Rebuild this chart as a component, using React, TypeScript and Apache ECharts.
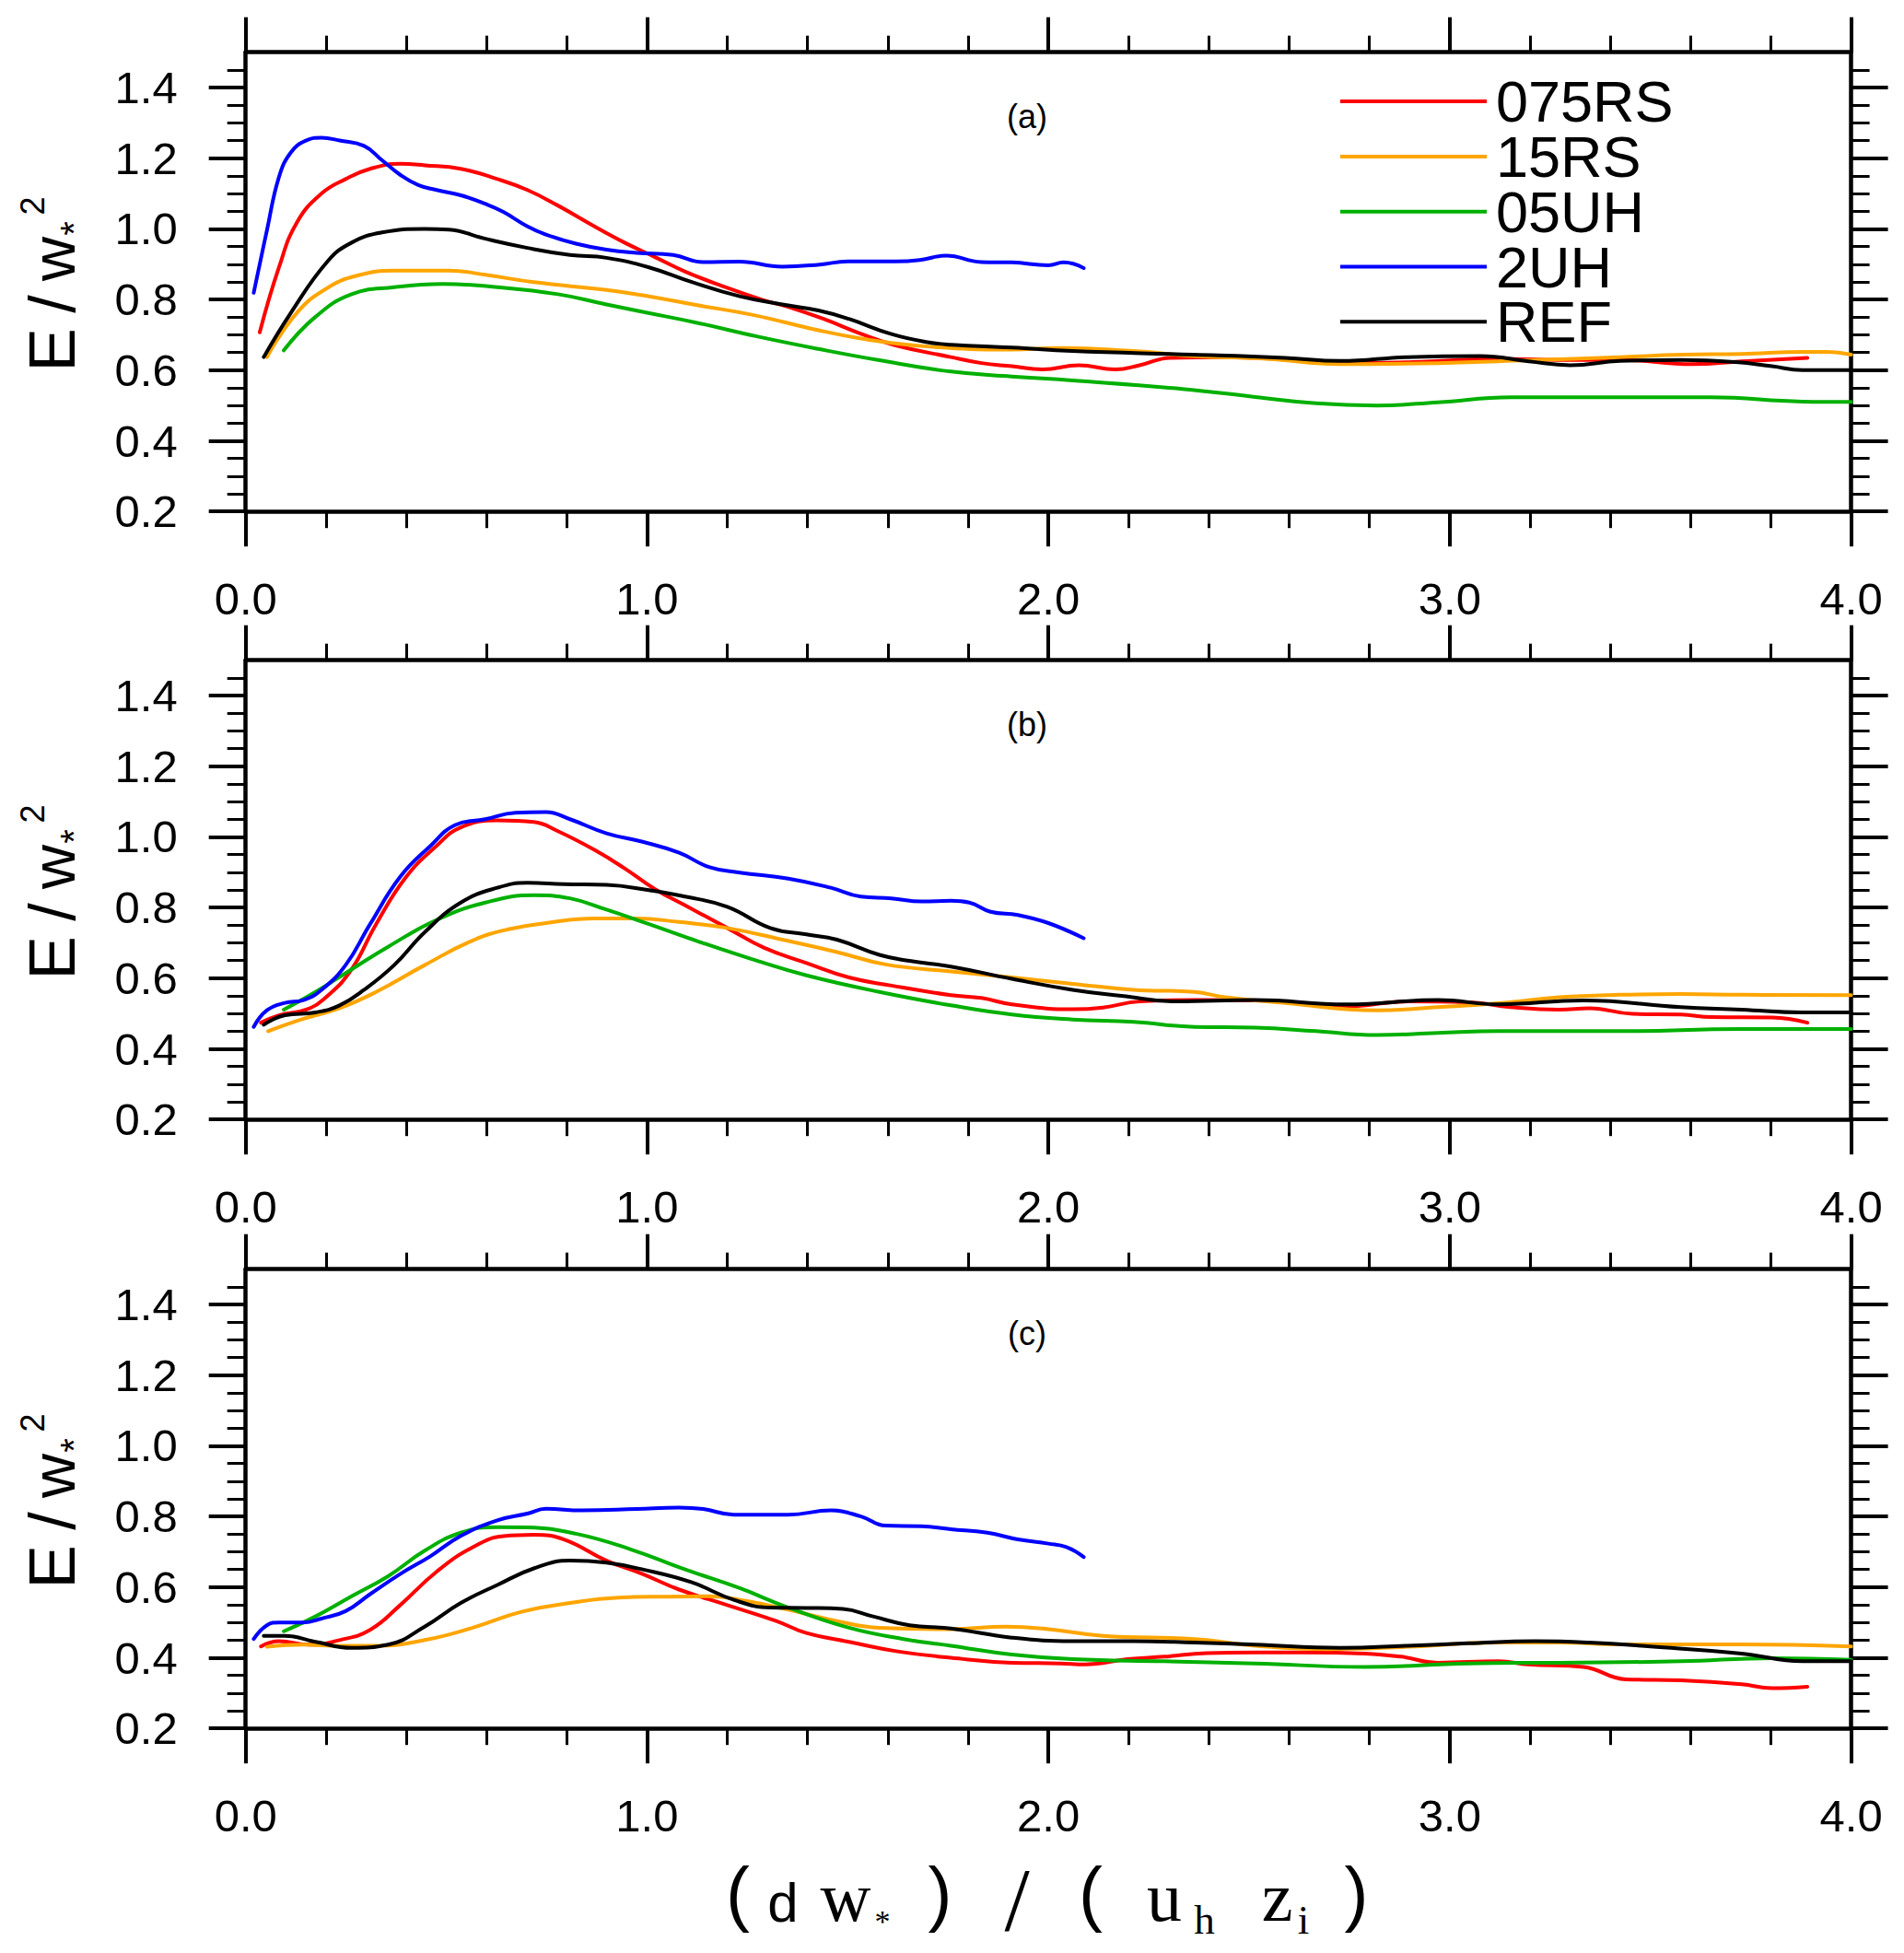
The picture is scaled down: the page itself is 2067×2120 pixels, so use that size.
import React, { useEffect, useRef } from 'react';
import * as echarts from 'echarts';

const SERIES_NAMES = ['075RS', '15RS', '05UH', '2UH', 'REF'];
const SERIES_COLORS = ['#FF0000', '#FFA500', '#00B000', '#0000FF', '#000000'];
const PANEL_LABELS = ['(a)', '(b)', '(c)'];
const X_TICKS = [0, 1, 2, 3, 4];
const Y_TICKS = [0.2, 0.4, 0.6, 0.8, 1.0, 1.2, 1.4];

type P = [number, number][];

// ---- panel (a)
const A_075RS: P = [[0.035,0.707],[0.083,0.891],[0.128,1.019],[0.189,1.10],[0.249,1.141],[0.31,1.17],[0.385,1.184],[0.446,1.18],[0.536,1.17],[0.627,1.141],[0.702,1.11],[0.778,1.066],[0.869,1.007],[0.944,0.961],[1.02,0.92],[1.095,0.879],[1.2,0.833],[1.29,0.798],[1.35,0.78],[1.44,0.745],[1.53,0.704],[1.62,0.67],[1.757,0.637],[1.833,0.62],[1.909,0.611],[1.985,0.602],[2.076,0.614],[2.167,0.602],[2.227,0.614],[2.303,0.635],[2.44,0.637],[2.606,0.629],[2.727,0.62],[2.909,0.623],[3.121,0.632],[3.273,0.629],[3.424,0.629],[3.606,0.617],[3.727,0.625],[3.891,0.635]];
const A_15RS: P = [[0.053,0.637],[0.128,0.763],[0.204,0.833],[0.279,0.868],[0.37,0.882],[0.506,0.882],[0.597,0.87],[0.718,0.849],[0.899,0.827],[1.005,0.809],[1.125,0.784],[1.261,0.757],[1.427,0.713],[1.548,0.687],[1.699,0.667],[1.909,0.658],[2.03,0.663],[2.212,0.654],[2.364,0.64],[2.545,0.632],[2.727,0.617],[2.97,0.62],[3.197,0.628],[3.424,0.637],[3.576,0.644],[3.727,0.646],[3.879,0.652],[3.94,0.652],[4.0,0.644]];
const A_05UH: P = [[0.095,0.656],[0.174,0.751],[0.264,0.815],[0.37,0.835],[0.491,0.844],[0.627,0.835],[0.778,0.815],[0.899,0.786],[0.989,0.765],[1.125,0.734],[1.276,0.695],[1.427,0.66],[1.579,0.628],[1.757,0.596],[1.909,0.582],[2.06,0.571],[2.333,0.547],[2.515,0.524],[2.667,0.506],[2.818,0.5],[2.97,0.509],[3.152,0.523],[3.424,0.523],[3.652,0.523],[3.879,0.511],[4.0,0.51]];
const A_2UH: P = [[0.02,0.819],[0.053,0.996],[0.083,1.147],[0.113,1.217],[0.15,1.25],[0.189,1.258],[0.234,1.25],[0.295,1.235],[0.34,1.194],[0.385,1.153],[0.43,1.124],[0.476,1.11],[0.536,1.095],[0.597,1.071],[0.642,1.048],[0.702,1.007],[0.748,0.984],[0.823,0.958],[0.899,0.941],[0.974,0.932],[1.065,0.926],[1.14,0.906],[1.23,0.907],[1.337,0.893],[1.43,0.899],[1.5,0.908],[1.62,0.908],[1.68,0.912],[1.745,0.924],[1.833,0.906],[1.909,0.905],[2.0,0.897],[2.038,0.905],[2.088,0.889]];
const A_REF: P = [[0.045,0.637],[0.113,0.763],[0.204,0.908],[0.264,0.961],[0.34,0.99],[0.446,1.0],[0.506,0.998],[0.597,0.972],[0.702,0.946],[0.808,0.926],[0.899,0.918],[1.005,0.891],[1.11,0.85],[1.231,0.809],[1.337,0.786],[1.427,0.769],[1.503,0.745],[1.609,0.702],[1.699,0.679],[1.758,0.672],[1.909,0.664],[2.06,0.654],[2.364,0.644],[2.59,0.635],[2.727,0.626],[2.894,0.637],[3.076,0.64],[3.197,0.625],[3.3,0.614],[3.424,0.626],[3.576,0.629],[3.712,0.623],[3.803,0.611],[3.879,0.6],[4.0,0.6]];

// ---- panel (b)
const B_075RS: P = [[0.038,0.474],[0.083,0.495],[0.151,0.511],[0.204,0.55],[0.264,0.625],[0.325,0.753],[0.4,0.887],[0.476,0.975],[0.536,1.027],[0.627,1.047],[0.718,1.042],[0.778,1.016],[0.869,0.963],[0.944,0.911],[1.02,0.852],[1.095,0.806],[1.2,0.742],[1.292,0.686],[1.397,0.643],[1.503,0.602],[1.609,0.579],[1.757,0.552],[1.833,0.544],[1.909,0.526],[2.06,0.512],[2.136,0.517],[2.227,0.534],[2.364,0.538],[2.515,0.537],[2.742,0.52],[2.894,0.534],[3.045,0.532],[3.152,0.518],[3.273,0.511],[3.348,0.515],[3.455,0.499],[3.576,0.497],[3.652,0.49],[3.803,0.489],[3.891,0.474]];
const B_15RS: P = [[0.056,0.45],[0.144,0.485],[0.234,0.515],[0.325,0.561],[0.446,0.637],[0.566,0.707],[0.657,0.739],[0.748,0.756],[0.869,0.769],[0.974,0.769],[1.08,0.759],[1.2,0.742],[1.337,0.709],[1.473,0.674],[1.594,0.639],[1.757,0.619],[1.909,0.602],[2.06,0.584],[2.212,0.567],[2.364,0.561],[2.44,0.546],[2.59,0.53],[2.818,0.509],[2.97,0.518],[3.121,0.529],[3.273,0.546],[3.424,0.553],[3.576,0.555],[3.727,0.553],[4.0,0.552]];
const B_05UH: P = [[0.095,0.511],[0.174,0.561],[0.264,0.625],[0.355,0.689],[0.476,0.765],[0.597,0.814],[0.718,0.835],[0.808,0.826],[0.899,0.794],[1.005,0.753],[1.125,0.705],[1.261,0.654],[1.397,0.608],[1.579,0.561],[1.757,0.523],[1.909,0.497],[2.06,0.483],[2.212,0.476],[2.364,0.462],[2.515,0.46],[2.667,0.45],[2.818,0.439],[2.97,0.445],[3.121,0.45],[3.424,0.45],[3.727,0.456],[4.0,0.456]];
const B_2UH: P = [[0.02,0.462],[0.053,0.509],[0.098,0.53],[0.144,0.538],[0.189,0.567],[0.249,0.637],[0.31,0.753],[0.385,0.887],[0.461,0.975],[0.521,1.033],[0.597,1.05],[0.672,1.068],[0.748,1.07],[0.808,1.05],[0.899,1.01],[0.989,0.986],[1.08,0.955],[1.156,0.914],[1.231,0.899],[1.352,0.882],[1.458,0.856],[1.533,0.831],[1.609,0.826],[1.684,0.817],[1.757,0.819],[1.803,0.814],[1.856,0.788],[1.924,0.779],[2.0,0.756],[2.088,0.713]];
const B_REF: P = [[0.045,0.468],[0.098,0.495],[0.174,0.503],[0.234,0.523],[0.295,0.567],[0.37,0.637],[0.446,0.73],[0.536,0.814],[0.627,0.856],[0.702,0.87],[0.793,0.866],[0.899,0.864],[1.005,0.849],[1.095,0.831],[1.2,0.802],[1.307,0.742],[1.397,0.724],[1.473,0.709],[1.579,0.666],[1.654,0.649],[1.757,0.633],[1.909,0.598],[2.06,0.567],[2.182,0.55],[2.318,0.534],[2.515,0.538],[2.742,0.526],[2.97,0.538],[3.121,0.526],[3.333,0.537],[3.576,0.518],[3.727,0.511],[3.879,0.503],[4.0,0.503]];

// ---- panel (c)
const C_075RS: P = [[0.038,0.432],[0.083,0.447],[0.159,0.437],[0.234,0.45],[0.31,0.479],[0.385,0.549],[0.476,0.644],[0.566,0.713],[0.642,0.744],[0.718,0.748],[0.793,0.735],[0.899,0.675],[0.989,0.637],[1.08,0.593],[1.2,0.549],[1.322,0.504],[1.397,0.47],[1.503,0.445],[1.624,0.418],[1.757,0.4],[1.909,0.386],[2.03,0.384],[2.091,0.381],[2.197,0.396],[2.288,0.403],[2.394,0.413],[2.515,0.415],[2.636,0.415],[2.788,0.412],[2.879,0.403],[2.97,0.386],[3.121,0.39],[3.197,0.381],[3.333,0.374],[3.439,0.339],[3.576,0.336],[3.727,0.325],[3.803,0.314],[3.891,0.318]];
const C_15RS: P = [[0.053,0.431],[0.144,0.437],[0.234,0.434],[0.325,0.434],[0.446,0.45],[0.566,0.485],[0.687,0.53],[0.808,0.555],[0.929,0.57],[1.05,0.573],[1.156,0.574],[1.246,0.561],[1.352,0.536],[1.473,0.504],[1.579,0.485],[1.757,0.481],[1.894,0.488],[2.0,0.481],[2.136,0.462],[2.364,0.453],[2.515,0.434],[2.697,0.424],[2.894,0.431],[3.121,0.443],[3.273,0.443],[3.424,0.438],[3.727,0.438],[4.0,0.432]];
const C_05UH: P = [[0.095,0.475],[0.174,0.517],[0.264,0.574],[0.355,0.631],[0.446,0.703],[0.536,0.754],[0.627,0.77],[0.702,0.769],[0.823,0.751],[0.959,0.707],[1.095,0.65],[1.231,0.597],[1.352,0.542],[1.503,0.485],[1.639,0.453],[1.757,0.434],[1.909,0.409],[2.06,0.396],[2.288,0.39],[2.515,0.384],[2.788,0.374],[3.045,0.384],[3.273,0.386],[3.576,0.39],[3.803,0.399],[4.0,0.394]];
const C_2UH: P = [[0.02,0.453],[0.053,0.492],[0.083,0.5],[0.144,0.5],[0.189,0.511],[0.249,0.532],[0.31,0.58],[0.385,0.637],[0.461,0.688],[0.536,0.745],[0.627,0.789],[0.702,0.808],[0.748,0.822],[0.838,0.817],[0.974,0.821],[1.08,0.825],[1.14,0.821],[1.216,0.805],[1.352,0.805],[1.458,0.817],[1.533,0.8],[1.594,0.774],[1.684,0.772],[1.757,0.764],[1.848,0.754],[1.924,0.735],[2.0,0.723],[2.045,0.713],[2.088,0.685]];
const C_REF: P = [[0.045,0.462],[0.098,0.462],[0.174,0.445],[0.264,0.428],[0.355,0.437],[0.446,0.488],[0.536,0.555],[0.627,0.606],[0.718,0.653],[0.808,0.675],[0.899,0.669],[0.989,0.65],[1.11,0.614],[1.216,0.564],[1.307,0.542],[1.397,0.541],[1.488,0.538],[1.563,0.517],[1.654,0.492],[1.757,0.483],[1.909,0.457],[2.06,0.447],[2.212,0.447],[2.364,0.443],[2.515,0.437],[2.727,0.428],[2.894,0.434],[3.045,0.441],[3.212,0.447],[3.348,0.443],[3.5,0.432],[3.727,0.412],[3.879,0.39],[4.0,0.39]];

const PANEL_DATA: P[][] = [
  [A_075RS, A_15RS, A_05UH, A_2UH, A_REF],
  [B_075RS, B_15RS, B_05UH, B_2UH, B_REF],
  [C_075RS, C_15RS, C_05UH, C_2UH, C_REF],
];

const SANS = 'Liberation Sans, Arial, Helvetica, sans-serif';
const SERIF = 'Liberation Serif, Times New Roman, serif';

const GRID_LEFT = 266.7;
const GRID_WIDTH = 1742.9;
const GRID_HEIGHT = 498.5;
const GRID_TOPS = [56.7, 716.7, 1377.7];

function txt(text: string, x: number, y: number, fontSize: number, family: string, rotation = 0) {
  return {
    type: 'text',
    x, y, rotation,
    silent: true,
    style: {
      text, fontSize, fontFamily: family, fill: '#000',
      align: 'center', verticalAlign: 'middle',
      textAlign: 'center', textVerticalAlign: 'middle',
    },
  };
}

function buildOption() {
  const grid: any[] = [];
  const xAxis: any[] = [];
  const yAxis: any[] = [];
  const series: any[] = [];
  const graphic: any[] = [];

  const lineCol = '#000';
  GRID_TOPS.forEach((top, p) => {
    grid.push({ left: GRID_LEFT, top, width: GRID_WIDTH, height: GRID_HEIGHT, show: false });
    const xBase = {
      type: 'value', gridIndex: p, min: 0, max: 4, interval: 1,
      axisLine: { show: true, onZero: false, lineStyle: { color: lineCol, width: 4.5 } },
      axisTick: { show: true, inside: false, length: 38, lineStyle: { color: lineCol, width: 4 } },
      minorTick: { show: true, splitNumber: 5, length: 18, lineStyle: { color: lineCol, width: 3 } },
      splitLine: { show: false },
      minorSplitLine: { show: false },
    };
    xAxis.push({
      ...xBase, position: 'bottom',
      axisLabel: {
        show: true, margin: 70, fontSize: 49, color: '#000', fontFamily: SANS,
        showMinLabel: true, showMaxLabel: true,
        customValues: X_TICKS,
        formatter: (v: number) => v.toFixed(1),
      },
    });
    xAxis.push({ ...xBase, position: 'top', axisLabel: { show: false } });
    const yBase = {
      type: 'value', gridIndex: p, min: 0.2, max: 1.5, interval: 0.2,
      axisLine: { show: true, onZero: false, lineStyle: { color: lineCol, width: 4.5 } },
      axisTick: { show: true, inside: false, length: 40, customValues: Y_TICKS, lineStyle: { color: lineCol, width: 4 } },
      minorTick: { show: true, splitNumber: 4, length: 20, lineStyle: { color: lineCol, width: 3 } },
      splitLine: { show: false },
      minorSplitLine: { show: false },
    };
    yAxis.push({
      ...yBase, position: 'left',
      axisLabel: {
        show: true, margin: 74, fontSize: 49, color: '#000', fontFamily: SANS,
        customValues: Y_TICKS,
        formatter: (v: number) => v.toFixed(1),
      },
    });
    yAxis.push({ ...yBase, position: 'right', axisLabel: { show: false } });

    PANEL_DATA[p].forEach((data, s) => {
      series.push({
        type: 'line',
        name: SERIES_NAMES[s],
        xAxisIndex: 2 * p,
        yAxisIndex: 2 * p,
        data,
        symbol: 'none',
        showSymbol: false,
        smooth: 0.45,
        lineStyle: { color: SERIES_COLORS[s], width: 4, cap: 'round', join: 'round' },
        itemStyle: { color: SERIES_COLORS[s] },
        emphasis: { disabled: true },
        silent: true,
      });
    });

    // panel label
    graphic.push(txt(PANEL_LABELS[p], 1115, top + 69.5, 36, SANS));

    // y-axis title  E / w*^2 (rotated)
    const cy = top + GRID_HEIGHT / 2;
    const R = Math.PI / 2;
    graphic.push(txt('E', 56.4, cy + 74, 71, SANS, R));
    graphic.push(txt('/', 56.7, cy + 24, 70, SANS, R));
    graphic.push(txt('w', 57.8, cy - 25, 67, SANS, R));
    graphic.push(txt('*', 79.9, cy - 58, 40, SANS, R));
    graphic.push(txt('2', 35, cy - 82.5, 36, SANS, R));
  });

  // x-axis title ( d w* ) / ( u_h z_i )
  graphic.push(txt('(', 801, 2054.8, 78, SANS));
  graphic.push(txt('d', 850, 2065.2, 60, SANS));
  graphic.push(txt('w', 918, 2059.4, 76, SERIF));
  graphic.push(txt('*', 958, 2085.4, 34, SERIF));
  graphic.push(txt(')', 1020.5, 2054.8, 78, SANS));
  graphic.push(txt('/', 1104, 2062, 98, SERIF));
  graphic.push(txt('(', 1184, 2054.8, 78, SANS));
  graphic.push(txt('u', 1264, 2059.4, 76, SERIF));
  graphic.push(txt('h', 1307.5, 2083.8, 45, SERIF));
  graphic.push(txt('z', 1386.5, 2059.4, 76, SERIF));
  graphic.push(txt('i', 1415, 2083.8, 45, SERIF));
  graphic.push(txt(')', 1472.5, 2054.8, 78, SANS));

  return {
    animation: false,
    backgroundColor: '#ffffff',
    grid,
    xAxis,
    yAxis,
    series,
    legend: {
      show: true,
      orient: 'vertical',
      left: 1450,
      top: 73.6,
      icon: 'rect',
      itemWidth: 159,
      itemHeight: 4,
      itemGap: -3.2,
      selectedMode: false,
      data: SERIES_NAMES,
      textStyle: { fontSize: 63, fontFamily: SANS, color: '#000', lineHeight: 59, padding: [0, 0, 0, 5] },
    },
    graphic,
  };
}

export default function App() {
  const ref = useRef<HTMLDivElement>(null);
  useEffect(() => {
    if (!ref.current) return;
    const chart = echarts.init(ref.current, undefined, { renderer: 'svg', width: 2067, height: 2120 });
    chart.setOption(buildOption() as any);
    return () => chart.dispose();
  }, []);
  return (
    <div
      ref={ref}
      style={{ position: 'absolute', left: 0, top: 0, width: 2067, height: 2120, background: '#fff' }}
    />
  );
}
